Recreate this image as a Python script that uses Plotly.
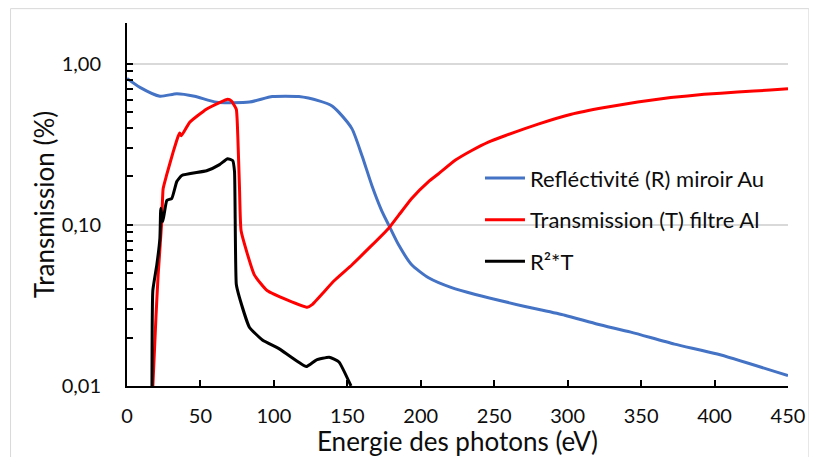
import plotly.graph_objects as go

# Reflectivity (R) of gold mirror
r_x = [0, 8.8, 22.4, 33.9, 46, 61, 83.4, 99, 117, 130.8, 139.6, 144.3, 153.2, 160, 166.7, 173.5,
       178.2, 185, 193.8, 205.3, 221, 237.2, 271, 298, 320.5, 343, 372.7, 401.9, 450]
r_y = [0.812, 0.715, 0.63, 0.653, 0.63, 0.578, 0.58, 0.627, 0.627, 0.589, 0.548, 0.50, 0.395, 0.269,
       0.176, 0.122, 0.0998, 0.075, 0.0566, 0.047, 0.0408, 0.037, 0.0312, 0.0275, 0.0242, 0.0216,
       0.0182, 0.0158, 0.0116]

# Transmission (T) of Al filter
t_x = [17.6, 19.7, 21.2, 23.5, 24.6, 26.9, 31.4, 34.8, 35.9, 37, 42.7, 54, 63, 68.6, 71, 74.4,
       75.5, 76.6, 77.7, 86.7, 95.6, 122.7, 126, 141, 153.2, 178.2, 185, 193.8, 205.3, 212.1, 223.4,
       234.7, 246, 257.3, 279.9, 302.5, 325.1, 347.7, 370.2, 392.9, 415.6, 438, 450]
t_y = [0.01, 0.0267, 0.049, 0.1, 0.168, 0.203, 0.283, 0.355, 0.372, 0.358, 0.434, 0.523, 0.575,
       0.603, 0.589, 0.523, 0.342, 0.168, 0.0916, 0.049, 0.039, 0.0308, 0.032, 0.045, 0.0566,
       0.0955, 0.115, 0.146, 0.186, 0.208, 0.252, 0.29, 0.327, 0.358, 0.423, 0.487, 0.536, 0.58,
       0.618, 0.647, 0.669, 0.688, 0.70]

# R^2 * T
b_x = [17, 17.6, 20.3, 22.4, 23, 24.4, 27.1, 30.5, 33.9, 37.3, 54.2, 63, 68.5, 72, 73.2, 74.4,
       76.6, 83.4, 92.2, 103.7, 122, 128.8, 137.6, 144.3, 152.5]
b_y = [0.01, 0.0392, 0.0566, 0.083, 0.127, 0.105, 0.142, 0.146, 0.186, 0.203, 0.217, 0.237, 0.258,
       0.251, 0.214, 0.0428, 0.0353, 0.0231, 0.0193, 0.017, 0.0132, 0.0145, 0.0151, 0.0141, 0.01]

x_ticks = [0, 50, 100, 150, 200, 250, 300, 350, 400, 450]
y_ticks = [0.01, 0.1, 1]
y_ticktext = ["0,01", "0,10", "1,00"]

FONT = "Lato"
TXT = "#0d0d0d"

fig = go.Figure()
fig.add_trace(go.Scatter(x=r_x, y=r_y, mode="lines", name="Refléctivité (R) miroir Au",
                         line=dict(color="#4472C4", width=3, shape="spline", smoothing=0.6),
                         legendgroup="a"))
fig.add_trace(go.Scatter(x=t_x, y=t_y, mode="lines", name="Transmission (T) filtre Al",
                         line=dict(color="#FF0000", width=3, shape="spline", smoothing=0.4),
                         legendgroup="b"))
fig.add_trace(go.Scatter(x=b_x, y=b_y, mode="lines", name="R²*T",
                         line=dict(color="#000000", width=3, shape="spline", smoothing=0.4),
                         legendgroup="c"))

fig.update_layout(
    width=809, height=449,
    margin=dict(l=119, r=26, t=15, b=68),
    paper_bgcolor="white", plot_bgcolor="white",
    font=dict(family=FONT, color=TXT, size=20),
    showlegend=True,
    legend=dict(x=0.534, y=0.63, xanchor="left", yanchor="top",
                bgcolor="rgba(0,0,0,0)", font=dict(size=22, family=FONT, color=TXT),
                tracegroupgap=10, traceorder="grouped", itemwidth=40),
    shapes=[dict(type="rect", xref="paper", yref="paper",
                 x0=-0.1762, x1=1.0316, y0=-0.25, y1=1.0396,
                 line=dict(color="#D9D9D9", width=1), layer="below")],
)

fig.update_xaxes(
    range=[0, 450], tickvals=x_ticks, ticktext=[str(v) for v in x_ticks],
    showline=True, linecolor="black", linewidth=2, mirror=False,
    ticks="inside", ticklen=6, tickwidth=1.5, tickcolor="black",
    showgrid=False, zeroline=False,
    ticklabelstandoff=11, tickfont=dict(size=20, family=FONT, color=TXT),
    title=dict(text="Energie des photons (eV)", font=dict(size=26, family=FONT, color=TXT), standoff=0),
)
fig.update_yaxes(
    type="log", range=[-2, 0.254], tickvals=y_ticks, ticktext=y_ticktext,
    showline=True, linecolor="black", linewidth=2,
    ticks="inside", ticklen=6, tickwidth=1.5, tickcolor="black",
    minor=dict(ticks="inside", ticklen=6, tickwidth=1.5, tickcolor="black", dtick="D1", showgrid=False),
    showgrid=True, gridcolor="#D9D9D9", gridwidth=1.5, zeroline=False,
    ticklabelstandoff=20, tickfont=dict(size=20, family=FONT, color=TXT),
    title=dict(text="Transmission (%)", font=dict(size=26, family=FONT, color=TXT), standoff=0),
)

fig.write_html("out.html")
